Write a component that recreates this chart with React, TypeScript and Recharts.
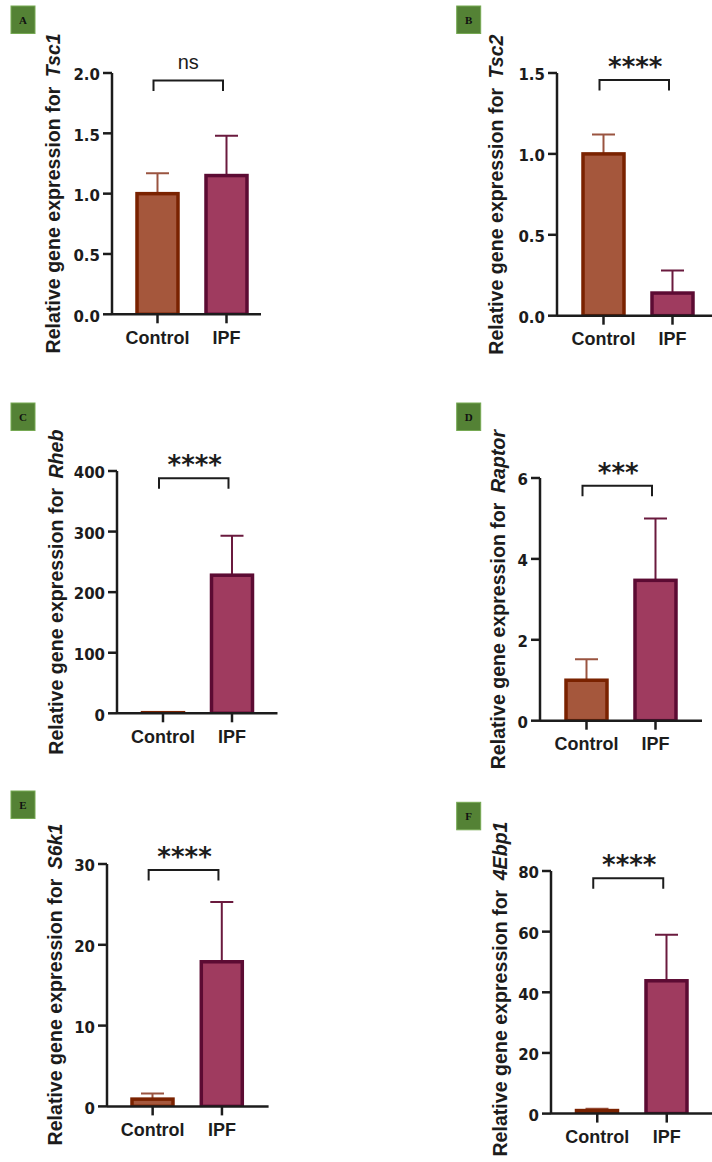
import React from 'react';
import { BarChart, Bar, XAxis, YAxis, ReferenceLine } from 'recharts';

// ---------- data ----------
const categories = ['Control', 'IPF'];
const genes = ['Tsc1', 'Tsc2', 'Rheb', 'Raptor', 'S6k1', '4Ebp1'];
const panelLetters = ['A', 'B', 'C', 'D', 'E', 'F'];
const significance = ['ns', '****', '****', '***', '****', '****'];

const tsc1Mean = [1.0, 1.15];
const tsc1Sd = [0.17, 0.33];
const tsc2Mean = [1.0, 0.14];
const tsc2Sd = [0.12, 0.14];
const rhebMean = [1.0, 228];
const rhebSd = [1.0, 65];
const raptorMean = [1.0, 3.47];
const raptorSd = [0.52, 1.53];
const s6k1Mean = [0.9, 17.9];
const s6k1Sd = [0.7, 7.4];
const ebp1Mean = [1.0, 43.8];
const ebp1Sd = [0.6, 15.2];

const tsc1Ticks = [0, 0.5, 1, 1.5, 2];
const tsc2Ticks = [0, 0.5, 1, 1.5];
const rhebTicks = [0, 100, 200, 300, 400];
const raptorTicks = [0, 2, 4, 6];
const s6k1Ticks = [0, 10, 20, 30];
const ebp1Ticks = [0, 20, 40, 60, 80];

// bracket heights (data units)
const bracketLevels = [1.937, 1.457, 388, 5.81, 29.26, 77.65];

// ---------- styles / layout ----------
const AXIS = '#1c1c1c';
const FILLS: Record<string, string> = { Control: '#A5573C', IPF: '#9F3B5F' };
const STROKES: Record<string, string> = { Control: '#7A2200', IPF: '#5C0B33' };
const ERRS: Record<string, string> = { Control: '#9A5440', IPF: '#6A1A3E' };

const layout = [
  { axisX: 112, top: 72.7, bottom: 314, padL: 11, padR: 0, step: 69, labelDx: -57, labelDy: 0, lx: 11, ly: 6, dec: 1 },
  { axisX: 556.7, top: 73.3, bottom: 316, padL: 12, padR: 6, step: 69, labelDx: -58.7, labelDy: 0, lx: 456.7, ly: 6, dec: 1 },
  { axisX: 117.3, top: 471, bottom: 713.3, padL: 11.5, padR: 11, step: 69, labelDx: -59, labelDy: 0, lx: 11, ly: 403, dec: 0 },
  { axisX: 540, top: 478.3, bottom: 721, padL: 12, padR: 12, step: 69, labelDx: -40, labelDy: 0, lx: 456.7, ly: 403, dec: 0 },
  { axisX: 106.7, top: 864.3, bottom: 1106.7, padL: 11, padR: 12, step: 69.3, labelDx: -50, labelDy: -1, lx: 11, ly: 791, dec: 0 },
  { axisX: 550.7, top: 870.7, bottom: 1113.3, padL: 11.5, padR: 12, step: 69.5, labelDx: -49, labelDy: -3, lx: 456.7, ly: 802.3, dec: 0 },
];

const means = [tsc1Mean, tsc2Mean, rhebMean, raptorMean, s6k1Mean, ebp1Mean];
const sds = [tsc1Sd, tsc2Sd, rhebSd, raptorSd, s6k1Sd, ebp1Sd];
const ticksList = [tsc1Ticks, tsc2Ticks, rhebTicks, raptorTicks, s6k1Ticks, ebp1Ticks];

const Y_W = 70;
const M_TOP = 40;
const X_H = 50;

const BarShape = (props: any) => {
  const { x, y, width, height, payload } = props;
  const name = payload.name;
  const ppu = payload.mean > 0 ? height / payload.mean : 0;
  const errTop = y - payload.sd * ppu;
  const cx = x + width / 2;
  return (
    <g>
      <line x1={cx} x2={cx} y1={y} y2={errTop} stroke={ERRS[name]} strokeWidth={2} />
      <line x1={cx - 11.5} x2={cx + 11.5} y1={errTop} y2={errTop} stroke={ERRS[name]} strokeWidth={2} />
      <rect x={x} y={y} width={width} height={height} fill={FILLS[name]} stroke={STROKES[name]} strokeWidth={3.5} />
    </g>
  );
};

const makeBracket = (text: string) => (props: any) => {
  const { x1, x2, y1 } = props;
  const xl = x1 - 4;
  const xr = x2 - 3.5;
  const isNs = text === 'ns';
  return (
    <g>
      <path d={`M${xl},${y1 + 10.5} V${y1} H${xr} V${y1 + 10.5}`} fill="none" stroke={AXIS} strokeWidth={2} />
      <text
        x={(xl + xr) / 2 + (isNs ? 0 : 1)}
        y={isNs ? y1 - 12 : y1 - 4}
        textAnchor="middle"
        fill={AXIS}
        fontFamily={isNs ? 'Liberation Sans, Arial, sans-serif' : 'DejaVu Sans, sans-serif'}
        fontWeight={isNs ? 'normal' : 'bold'}
        fontSize={isNs ? 20 : 26}
      >
        {text}
      </text>
    </g>
  );
};

function Panel({ i }: { i: number }) {
  const L = layout[i];
  const ticks = ticksList[i];
  const data = categories.map((name, k) => ({ name, mean: means[i][k], sd: sds[i][k] }));
  const plotW = L.padL + 2 * L.step + L.padR;
  const plotH = L.bottom - L.top;
  const width = Y_W + plotW + 2;
  const height = M_TOP + plotH + X_H;
  return (
    <div style={{ position: 'absolute', left: L.axisX - Y_W, top: L.top - M_TOP }}>
      <BarChart width={width} height={height} data={data} margin={{ top: M_TOP, right: 2, bottom: 0, left: 0 }} barSize={41}>
        <XAxis
          dataKey="name"
          height={X_H}
          padding={{ left: L.padL, right: L.padR }}
          interval={0}
          tickSize={9}
          tickMargin={8}
          axisLine={{ stroke: AXIS, strokeWidth: 2.5 }}
          tickLine={{ stroke: AXIS, strokeWidth: 2.5 }}
          tick={{ fill: AXIS, fontSize: 18, fontWeight: 'bold', fontFamily: 'Liberation Sans, Arial, sans-serif' }}
        />
        <YAxis
          type="number"
          width={Y_W}
          domain={[0, ticks[ticks.length - 1]]}
          ticks={ticks}
          interval={0}
          allowDataOverflow
          tickSize={9}
          tickMargin={3}
          tickFormatter={(v: number) => v.toFixed(L.dec)}
          axisLine={{ stroke: AXIS, strokeWidth: 2.5 }}
          tickLine={{ stroke: AXIS, strokeWidth: 2.5 }}
          tick={{ fill: AXIS, fontSize: 15, fontWeight: 'bold', fontFamily: 'DejaVu Sans, sans-serif', dy: 2 }}
        />
        <Bar dataKey="mean" shape={BarShape} isAnimationActive={false} />
        <ReferenceLine
          segment={[{ x: 'Control', y: bracketLevels[i] }, { x: 'IPF', y: bracketLevels[i] }]}
          shape={makeBracket(significance[i])}
          ifOverflow="visible"
        />
      </BarChart>
    </div>
  );
}

export default function App() {
  return (
    <div style={{ position: 'absolute', left: 0, top: 0, width: 712, height: 1162, background: '#fff', overflow: 'hidden' }}>
      {layout.map((_, i) => (
        <Panel key={i} i={i} />
      ))}
      <svg width={712} height={1162} style={{ position: 'absolute', left: 0, top: 0, pointerEvents: 'none' }}>
        {layout.map((L, i) => {
          const cx = L.axisX + L.labelDx + 5;
          const cy = (L.top + L.bottom) / 2 + L.labelDy;
          return (
            <g key={i}>
              <rect x={L.lx} y={L.ly} width={24} height={27.5} fill="#548235" stroke="#76A953" strokeWidth={1} />
              <text
                x={L.lx + 12}
                y={L.ly + 18}
                textAnchor="middle"
                fontFamily="Liberation Serif, Times New Roman, serif"
                fontWeight="bold"
                fontSize={11}
                fill="#111"
              >
                {panelLetters[i]}
              </text>
              <text
                x={cx}
                y={cy}
                transform={`rotate(-90 ${cx} ${cy})`}
                textAnchor="middle"
                fontFamily="Liberation Sans, Arial, sans-serif"
                fontWeight="bold"
                fontSize={19.6}
                fill={AXIS}
              >
                {'Relative gene expression for '}
                <tspan dx={4} fontStyle="italic">{genes[i]}</tspan>
              </text>
            </g>
          );
        })}
      </svg>
    </div>
  );
}
